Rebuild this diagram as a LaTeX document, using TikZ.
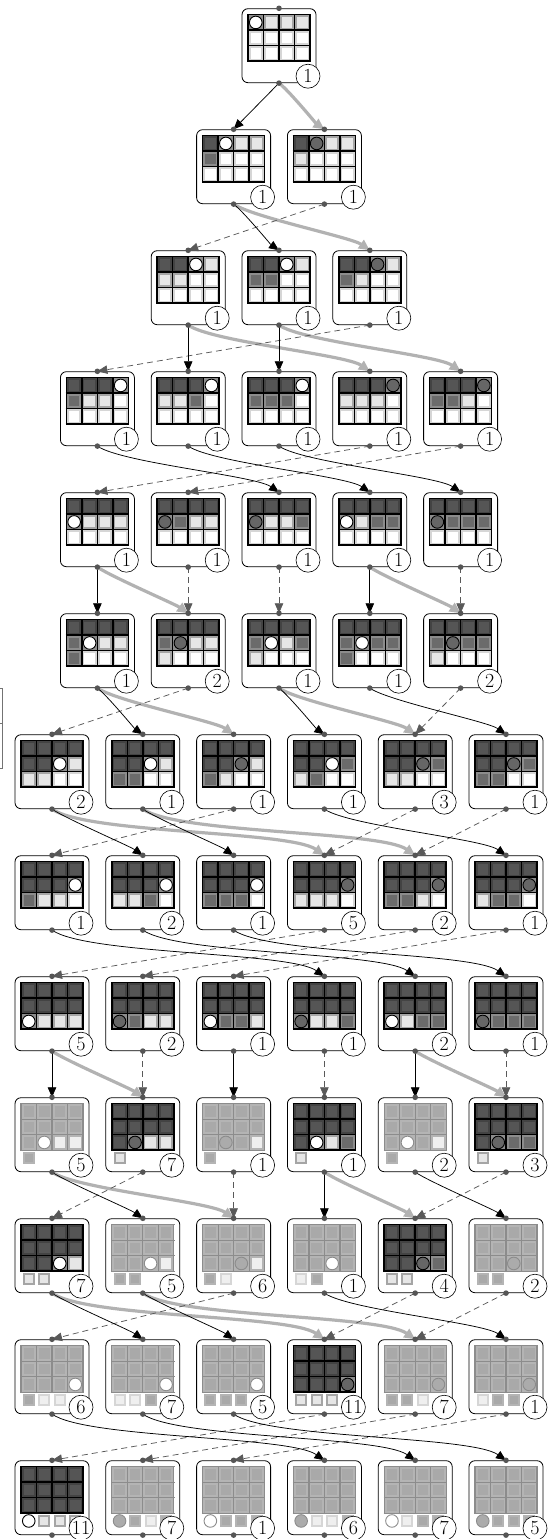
\documentclass[tikz,border=0pt]{standalone}
\usepackage{tikz}
\usetikzlibrary{arrows.meta}

\definecolor{dkframe}{HTML}{434343}
\definecolor{dkfill}{HTML}{555555}
\definecolor{mdframe}{HTML}{8C8C8C}
\definecolor{mdfill}{HTML}{6B6B6B}
\definecolor{ltframe}{HTML}{A5A5A5}
\definecolor{ltfill}{HTML}{E6E6E6}
\definecolor{whframe}{HTML}{D6D6D6}
\definecolor{fdframe}{HTML}{B4B4B4}
\definecolor{fdfill}{HTML}{A9A9A9}
\definecolor{fgfill}{HTML}{EFEFEF}
\definecolor{dotgray}{HTML}{555555}

\tikzset{
  statebox/.style={rectangle, draw, line width=0.8, rounded corners=6,
    minimum width=74, minimum height=74, inner sep=0},
  numcirc/.style={circle, draw, line width=0.6, fill=white, minimum size=24,
    inner sep=0, font=\fontsize{20}{20}\selectfont},
  gridD/.style={draw=black, line width=1.5},
  gridF/.style={draw=black!45, line width=1.2},
  % grid cells
  cellbase/.style={rectangle, inner sep=0, minimum size=13, line width=2.5},
  cellD/.style={cellbase, draw=dkframe, fill=dkfill},
  cellM/.style={cellbase, draw=mdframe, fill=mdfill},
  cellL/.style={cellbase, draw=ltframe, fill=ltfill},
  cellW/.style={cellbase, draw=whframe, fill=white},
  cellO/.style={cellbase, draw=mdframe, fill=mdframe},
  cellC/.style={cellbase, draw=mdframe, fill=mdframe},
  cellF/.style={cellbase, draw=fdframe, fill=fdfill},
  cellG/.style={cellbase, draw=fdframe, fill=fgfill},
  cellP/.style={cellbase, draw=fdframe, fill=fdframe},
  cellQ/.style={cellbase, draw=fdframe, fill=fdframe},
  % cells below the grid
  smallbase/.style={rectangle, inner sep=0, minimum size=10, line width=2},
  celll/.style={smallbase, draw=ltframe, fill=ltfill},
  cellf/.style={smallbase, draw=fdframe, fill=fdfill},
  cellg/.style={smallbase, draw=whframe, fill=fgfill},
  celln/.style={inner sep=0},
  cello/.style={inner sep=0},
  cellp/.style={inner sep=0},
  cellq/.style={inner sep=0},
  % circle marks
  nomark/.style={inner sep=0},
  markbase/.style={circle, inner sep=0, minimum size=12.6, line width=0.9},
  markO/.style={markbase, draw=black, fill=white},
  markC/.style={markbase, draw=black, fill=black!60},
  markP/.style={markbase, draw=black!45, fill=white},
  markQ/.style={markbase, draw=black!45, fill=black!33},
  marko/.style={markO}, markp/.style={markP}, markq/.style={markQ},
  markD/.style={nomark}, markM/.style={nomark}, markL/.style={nomark},
  markW/.style={nomark}, markF/.style={nomark}, markG/.style={nomark},
  markl/.style={nomark}, markf/.style={nomark}, markg/.style={nomark},
  markn/.style={nomark},
  % connectors
  blkedge/.style={line width=0.75, draw=black, -{Triangle[length=10pt,width=8.5pt]}},
  hiedge/.style={line width=3.2, draw=black!30, -{Triangle[length=11pt,width=10pt]}},
  dashedge/.style={line width=0.75, draw=black!65, dash pattern=on 6pt off 4pt,
    -{Triangle[length=10pt,width=8.5pt]}},
  rgt/.style={out=-35, in=145, looseness=0.4},
  dotc/.style={fill=dotgray}
}

% #1 name, #2 x, #3 row, #4 grid style, #5-#8 cell rows, #9 count
\newcommand{\stateBox}[9]{%
  \pgfmathsetmacro{\ty}{-(8.7+121*(#3-1))}%
  \node[statebox] (#1) at (#2,\ty-37) {};
  \foreach \rowcells [count=\r from 0] in {{#5},{#6},{#7},{#8}} {
    \foreach \c [count=\k from 0] in \rowcells {
      \node[cell\c] at ({#2-23.25+15.5*\k},{\ty-13.75-15.5*\r}) {};
      \node[mark\c] at ({#2-23.25+15.5*\k},{\ty-13.75-15.5*\r}) {};
    }
  }
  \foreach \k in {0,...,4}
    \draw[#4] ({#2-31+15.5*\k},\ty-5.3) -- ({#2-31+15.5*\k},\ty-53.2);
  \foreach \k in {0,...,3}
    \draw[#4] (#2-31.7,{\ty-6-15.5*\k}) -- (#2+31.7,{\ty-6-15.5*\k});
  \node[numcirc] at (#2+29,\ty-67.5) {#9};
}

\begin{document}
\begin{tikzpicture}[x=1pt, y=1pt]
  \useasboundingbox (0,0) rectangle (558,-1539);

  % States, row by row
  \stateBox{r1}{279}{1}{gridD}{O,L,L,L}{W,W,W,W}{W,W,W,W}{n,n,n,n}{1}

  \stateBox{r2a}{233.6}{2}{gridD}{D,O,L,L}{M,W,W,W}{W,W,W,W}{n,n,n,n}{1}
  \stateBox{r2b}{324.4}{2}{gridD}{D,C,L,L}{L,W,W,W}{W,W,W,W}{n,n,n,n}{1}

  \stateBox{r3a}{188.2}{3}{gridD}{D,D,O,L}{L,L,W,W}{W,W,W,W}{n,n,n,n}{1}
  \stateBox{r3b}{279}{3}{gridD}{D,D,O,L}{M,M,W,W}{W,W,W,W}{n,n,n,n}{1}
  \stateBox{r3c}{369.8}{3}{gridD}{D,D,C,L}{M,L,W,W}{W,W,W,W}{n,n,n,n}{1}

  \stateBox{r4a}{97.4}{4}{gridD}{D,D,D,O}{M,L,L,W}{W,W,W,W}{n,n,n,n}{1}
  \stateBox{r4b}{188.2}{4}{gridD}{D,D,D,O}{L,L,M,W}{W,W,W,W}{n,n,n,n}{1}
  \stateBox{r4c}{279}{4}{gridD}{D,D,D,O}{M,M,M,W}{W,W,W,W}{n,n,n,n}{1}
  \stateBox{r4d}{369.8}{4}{gridD}{D,D,D,C}{L,L,L,W}{W,W,W,W}{n,n,n,n}{1}
  \stateBox{r4e}{460.6}{4}{gridD}{D,D,D,C}{M,M,L,W}{W,W,W,W}{n,n,n,n}{1}

  \stateBox{r5a}{97.4}{5}{gridD}{D,D,D,D}{O,L,L,L}{W,W,W,W}{n,n,n,n}{1}
  \stateBox{r5b}{188.2}{5}{gridD}{D,D,D,D}{C,M,L,L}{W,W,W,W}{n,n,n,n}{1}
  \stateBox{r5c}{279}{5}{gridD}{D,D,D,D}{C,L,L,M}{W,W,W,W}{n,n,n,n}{1}
  \stateBox{r5d}{369.8}{5}{gridD}{D,D,D,D}{O,L,M,M}{W,W,W,W}{n,n,n,n}{1}
  \stateBox{r5e}{460.6}{5}{gridD}{D,D,D,D}{C,M,M,M}{W,W,W,W}{n,n,n,n}{1}

  \stateBox{r6a}{97.4}{6}{gridD}{D,D,D,D}{M,O,L,L}{M,W,W,W}{n,n,n,n}{1}
  \stateBox{r6b}{188.2}{6}{gridD}{D,D,D,D}{M,C,L,L}{L,W,W,W}{n,n,n,n}{2}
  \stateBox{r6c}{279}{6}{gridD}{D,D,D,D}{M,O,L,M}{L,W,W,W}{n,n,n,n}{1}
  \stateBox{r6d}{369.8}{6}{gridD}{D,D,D,D}{M,O,M,M}{M,W,W,W}{n,n,n,n}{1}
  \stateBox{r6e}{460.6}{6}{gridD}{D,D,D,D}{M,C,M,M}{L,W,W,W}{n,n,n,n}{2}

  \stateBox{r7a}{52}{7}{gridD}{D,D,D,D}{D,D,O,L}{L,L,W,W}{n,n,n,n}{2}
  \stateBox{r7b}{142.8}{7}{gridD}{D,D,D,D}{D,D,O,L}{M,M,W,W}{n,n,n,n}{1}
  \stateBox{r7c}{233.6}{7}{gridD}{D,D,D,D}{D,D,C,L}{M,L,W,W}{n,n,n,n}{1}
  \stateBox{r7d}{324.4}{7}{gridD}{D,D,D,D}{D,D,O,M}{L,M,W,W}{n,n,n,n}{1}
  \stateBox{r7e}{415.2}{7}{gridD}{D,D,D,D}{D,D,C,M}{L,L,W,W}{n,n,n,n}{3}
  \stateBox{r7f}{506}{7}{gridD}{D,D,D,D}{D,D,C,M}{M,M,W,W}{n,n,n,n}{1}

  \stateBox{r8a}{52}{8}{gridD}{D,D,D,D}{D,D,D,O}{M,L,L,W}{n,n,n,n}{1}
  \stateBox{r8b}{142.8}{8}{gridD}{D,D,D,D}{D,D,D,O}{L,L,M,W}{n,n,n,n}{2}
  \stateBox{r8c}{233.6}{8}{gridD}{D,D,D,D}{D,D,D,O}{M,M,M,W}{n,n,n,n}{1}
  \stateBox{r8d}{324.4}{8}{gridD}{D,D,D,D}{D,D,D,C}{L,L,L,W}{n,n,n,n}{5}
  \stateBox{r8e}{415.2}{8}{gridD}{D,D,D,D}{D,D,D,C}{M,M,L,W}{n,n,n,n}{2}
  \stateBox{r8f}{506}{8}{gridD}{D,D,D,D}{D,D,D,C}{L,M,M,W}{n,n,n,n}{1}

  \stateBox{r9a}{52}{9}{gridD}{D,D,D,D}{D,D,D,D}{O,L,L,L}{n,n,n,n}{5}
  \stateBox{r9b}{142.8}{9}{gridD}{D,D,D,D}{D,D,D,D}{C,M,L,L}{n,n,n,n}{2}
  \stateBox{r9c}{233.6}{9}{gridD}{D,D,D,D}{D,D,D,D}{O,M,M,L}{n,n,n,n}{1}
  \stateBox{r9d}{324.4}{9}{gridD}{D,D,D,D}{D,D,D,D}{C,L,L,M}{n,n,n,n}{1}
  \stateBox{r9e}{415.2}{9}{gridD}{D,D,D,D}{D,D,D,D}{O,L,M,M}{n,n,n,n}{2}
  \stateBox{r9f}{506}{9}{gridD}{D,D,D,D}{D,D,D,D}{C,M,M,M}{n,n,n,n}{1}

  \stateBox{r10a}{52}{10}{gridF}{F,F,F,F}{F,F,F,F}{F,P,G,G}{f,n,n,n}{5}
  \stateBox{r10b}{142.8}{10}{gridD}{D,D,D,D}{D,D,D,D}{D,C,L,L}{l,n,n,n}{7}
  \stateBox{r10c}{233.6}{10}{gridF}{F,F,F,F}{F,F,F,F}{F,Q,F,G}{f,n,n,n}{1}
  \stateBox{r10d}{324.4}{10}{gridD}{D,D,D,D}{D,D,D,D}{D,O,L,M}{l,n,n,n}{1}
  \stateBox{r10e}{415.2}{10}{gridF}{F,F,F,F}{F,F,F,F}{F,P,F,G}{f,n,n,n}{2}
  \stateBox{r10f}{506}{10}{gridD}{D,D,D,D}{D,D,D,D}{D,C,M,M}{l,n,n,n}{3}

  \stateBox{r11a}{52}{11}{gridD}{D,D,D,D}{D,D,D,D}{D,D,O,L}{l,l,n,n}{7}
  \stateBox{r11b}{142.8}{11}{gridF}{F,F,F,F}{F,F,F,F}{F,F,P,G}{f,f,n,n}{5}
  \stateBox{r11c}{233.6}{11}{gridF}{F,F,F,F}{F,F,F,F}{F,F,Q,G}{f,g,n,n}{6}
  \stateBox{r11d}{324.4}{11}{gridF}{F,F,F,F}{F,F,F,F}{F,F,P,F}{g,f,n,n}{1}
  \stateBox{r11e}{415.2}{11}{gridD}{D,D,D,D}{D,D,D,D}{D,D,C,M}{l,l,n,n}{4}
  \stateBox{r11f}{506}{11}{gridF}{F,F,F,F}{F,F,F,F}{F,F,Q,F}{f,f,n,n}{2}

  \stateBox{r12a}{52}{12}{gridF}{F,F,F,F}{F,F,F,F}{F,F,F,P}{f,g,g,n}{6}
  \stateBox{r12b}{142.8}{12}{gridF}{F,F,F,F}{F,F,F,F}{F,F,F,P}{g,g,f,n}{7}
  \stateBox{r12c}{233.6}{12}{gridF}{F,F,F,F}{F,F,F,F}{F,F,F,P}{f,f,f,n}{5}
  \stateBox{r12d}{324.4}{12}{gridD}{D,D,D,D}{D,D,D,D}{D,D,D,C}{l,l,l,n}{11}
  \stateBox{r12e}{415.2}{12}{gridF}{F,F,F,F}{F,F,F,F}{F,F,F,Q}{f,f,g,n}{7}
  \stateBox{r12f}{506}{12}{gridF}{F,F,F,F}{F,F,F,F}{F,F,F,Q}{g,f,f,n}{1}

  \stateBox{r13a}{52}{13}{gridD}{D,D,D,D}{D,D,D,D}{D,D,D,D}{o,l,l,l}{11}
  \stateBox{r13b}{142.8}{13}{gridF}{F,F,F,F}{F,F,F,F}{F,F,F,F}{q,f,g,f}{7}
  \stateBox{r13c}{233.6}{13}{gridF}{F,F,F,F}{F,F,F,F}{F,F,F,F}{p,f,f,f}{1}
  \stateBox{r13d}{324.4}{13}{gridF}{F,F,F,F}{F,F,F,F}{F,F,F,F}{q,g,g,f}{6}
  \stateBox{r13e}{415.2}{13}{gridF}{F,F,F,F}{F,F,F,F}{F,F,F,F}{p,g,f,f}{7}
  \stateBox{r13f}{506}{13}{gridF}{F,F,F,F}{F,F,F,F}{F,F,F,F}{q,f,f,f}{5}

  % Gray arrows
  \draw[hiedge] (r1.south) to[rgt] (r2b.north);
  \draw[hiedge] (r2a.south) to[rgt] (r3c.north);
  \draw[hiedge] (r3a.south) to[rgt] (r4d.north);
  \draw[hiedge] (r3b.south) to[rgt] (r4e.north);
  \draw[hiedge] (r5a.south) to[rgt] (r6b.north);
  \draw[hiedge] (r5d.south) to[rgt] (r6e.north);
  \draw[hiedge] (r6a.south) to[rgt] (r7c.north);
  \draw[hiedge] (r6c.south) to[rgt] (r7e.north);
  \draw[hiedge] (r7a.south) to[rgt] (r8d.north);
  \draw[hiedge] (r7b.south) to[rgt] (r8e.north);
  \draw[hiedge] (r9a.south) to[rgt] (r10b.north);
  \draw[hiedge] (r9e.south) to[rgt] (r10f.north);
  \draw[hiedge] (r10a.south) to[rgt] (r11c.north);
  \draw[hiedge] (r10d.south) to[rgt] (r11e.north);
  \draw[hiedge] (r11a.south) to[rgt] (r12d.north);
  \draw[hiedge] (r11b.south) to[rgt] (r12e.north);

  % Dashed arrows
  \draw[dashedge] (r2b.south) -- (r3a.north);
  \draw[dashedge] (r3c.south) -- (r4a.north);
  \draw[dashedge] (r4d.south) -- (r5a.north);
  \draw[dashedge] (r4e.south) -- (r5b.north);
  \draw[dashedge] (r5b.south) -- (r6b.north);
  \draw[dashedge] (r5c.south) -- (r6c.north);
  \draw[dashedge] (r5e.south) -- (r6e.north);
  \draw[dashedge] (r6b.south) -- (r7a.north);
  \draw[dashedge] (r6e.south) -- (r7e.north);
  \draw[dashedge] (r7c.south) -- (r8a.north);
  \draw[dashedge] (r7e.south) -- (r8d.north);
  \draw[dashedge] (r7f.south) -- (r8e.north);
  \draw[dashedge] (r8d.south) -- (r9a.north);
  \draw[dashedge] (r8e.south) -- (r9b.north);
  \draw[dashedge] (r8f.south) -- (r9c.north);
  \draw[dashedge] (r9b.south) -- (r10b.north);
  \draw[dashedge] (r9d.south) -- (r10d.north);
  \draw[dashedge] (r9f.south) -- (r10f.north);
  \draw[dashedge] (r10b.south) -- (r11a.north);
  \draw[dashedge] (r10c.south) -- (r11c.north);
  \draw[dashedge] (r10f.south) -- (r11e.north);
  \draw[dashedge] (r11c.south) -- (r12a.north);
  \draw[dashedge] (r11e.south) -- (r12d.north);
  \draw[dashedge] (r11f.south) -- (r12e.north);
  \draw[dashedge] (r12d.south) -- (r13a.north);
  \draw[dashedge] (r12e.south) -- (r13b.north);
  \draw[dashedge] (r12f.south) -- (r13c.north);

  % Black arrows
  \draw[blkedge] (r1.south) -- (r2a.north);
  \draw[blkedge] (r2a.south) to[rgt] (r3b.north);
  \draw[blkedge] (r3a.south) -- (r4b.north);
  \draw[blkedge] (r3b.south) -- (r4c.north);
  \draw[blkedge] (r4a.south) to[rgt] (r5c.north);
  \draw[blkedge] (r4b.south) to[rgt] (r5d.north);
  \draw[blkedge] (r4c.south) to[rgt] (r5e.north);
  \draw[blkedge] (r5a.south) -- (r6a.north);
  \draw[blkedge] (r5d.south) -- (r6d.north);
  \draw[blkedge] (r6a.south) to[rgt] (r7b.north);
  \draw[blkedge] (r6c.south) to[rgt] (r7d.north);
  \draw[blkedge] (r6d.south) to[rgt] (r7f.north);
  \draw[blkedge] (r7a.south) to[rgt] (r8b.north);
  \draw[blkedge] (r7b.south) to[rgt] (r8c.north);
  \draw[blkedge] (r7d.south) to[rgt] (r8f.north);
  \draw[blkedge] (r8a.south) to[rgt] (r9d.north);
  \draw[blkedge] (r8b.south) to[rgt] (r9e.north);
  \draw[blkedge] (r8c.south) to[rgt] (r9f.north);
  \draw[blkedge] (r9a.south) -- (r10a.north);
  \draw[blkedge] (r9c.south) -- (r10c.north);
  \draw[blkedge] (r9e.south) -- (r10e.north);
  \draw[blkedge] (r10a.south) to[rgt] (r11b.north);
  \draw[blkedge] (r10d.south) -- (r11d.north);
  \draw[blkedge] (r10e.south) to[rgt] (r11f.north);
  \draw[blkedge] (r11a.south) to[rgt] (r12b.north);
  \draw[blkedge] (r11b.south) to[rgt] (r12c.north);
  \draw[blkedge] (r11d.south) to[rgt] (r12f.north);
  \draw[blkedge] (r12a.south) to[rgt] (r13d.north);
  \draw[blkedge] (r12b.south) to[rgt] (r13e.north);
  \draw[blkedge] (r12c.south) to[rgt] (r13f.north);

  % Ports
  \foreach \n in {r1,r2a,r2b,r3a,r3b,r3c,r4a,r4b,r4c,r4d,r4e,r5a,r5b,r5c,r5d,r5e,
      r6a,r6b,r6c,r6d,r6e,r7a,r7b,r7c,r7d,r7e,r7f,r8a,r8b,r8c,r8d,r8e,r8f,
      r9a,r9b,r9c,r9d,r9e,r9f,r10a,r10b,r10c,r10d,r10e,r10f,
      r11a,r11b,r11c,r11d,r11e,r11f,r12a,r12b,r12c,r12d,r12e,r12f,
      r13a,r13b,r13c,r13d,r13e,r13f}{
    \fill[dotc] (\n.north) circle (2.8);
    \fill[dotc] (\n.south) circle (2.8);
  }

  % Bracket at the left edge
  \draw[black!55, line width=0.8] (0,-688) -- (2,-688) -- (2,-768) -- (0,-768);
  \draw[black!55, line width=0.8] (0,-723) -- (2,-723);
\end{tikzpicture}
\end{document}
